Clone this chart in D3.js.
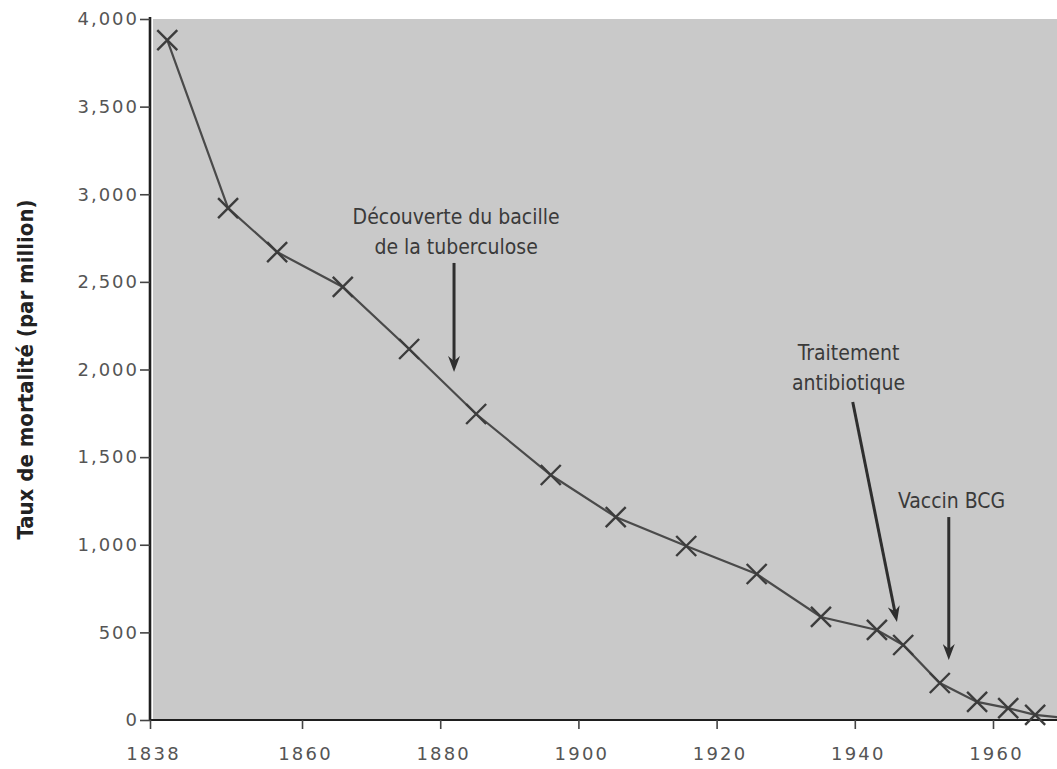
<!DOCTYPE html>
<html>
<head>
<meta charset="utf-8">
<script src="https://cdn.jsdelivr.net/npm/d3@7"></script>
<style>
  body { margin: 0; background: #fff; }
  svg { display: block; }
</style>
</head>
<body>
<div id="vis"></div>
<script>
// marked data points (year, deaths per million)
let years = [1840.5, 1849.3, 1856.4, 1865.9, 1875.5, 1885.2, 1896.0, 1905.4, 1915.6,
             1925.8, 1935.1, 1943.2, 1947.0, 1952.3, 1957.7, 1962.2, 1966.1]
let rates = [3880, 2921, 2670, 2471, 2117, 1746, 1398, 1158, 993,
             833, 588, 514, 428, 211, 103, 68, 29]
// the line runs on past the last cross to the edge of the frame
let tailYear = 1970.5
let tailRate = 12

let xTicks = [1838, 1860, 1880, 1900, 1920, 1940, 1960]
let yTicks = [0, 500, 1000, 1500, 2000, 2500, 3000, 3500, 4000]

// annotations: text lines, where the text sits, where the arrow starts and ends
let noteTexts = [["Découverte du bacille", "de la tuberculose"], ["Traitement", "antibiotique"], ["Vaccin BCG"]]
let noteTextYear = [1882.3, 1939.1, 1954.0]
let noteTextRate = [2830, 2054, 1210]
let noteFrom = [[1882.0, 2608], [1939.7, 1815], [1953.6, 1158]]
let noteTo = [[1882.0, 1986], [1946.1, 559], [1953.6, 342]]

config = {}
config.width = 1057
config.height = 769

let x = d3.scaleLinear().domain([1838, 1960]).range([150, 993])
let y = d3.scaleLinear().domain([0, 4000]).range([720, 19])

let svg = d3.select("#vis")
    .append("svg")
    .attr("width", config.width)
    .attr("height", config.height)

let defs = svg.append("defs")
defs.append("marker")
    .attr("id", "head")
    .attr("viewBox", "0 0 16 12")
    .attr("refX", 5)
    .attr("refY", 6)
    .attr("markerWidth", 16)
    .attr("markerHeight", 12)
    .attr("markerUnits", "userSpaceOnUse")
    .attr("orient", "auto")
    .append("path")
    .attr("d", "M0,0 L5,6 L0,12 L16,6 Z")
    .attr("fill", "#2e2e2e")

// grey plot area
svg.append("rect")
    .attr("x", x(1838) + 3)
    .attr("y", y(4000))
    .attr("width", config.width - x(1838) - 3)
    .attr("height", y(0) - y(4000))
    .attr("fill", "#c9c9c9")

let tickFont = "'DejaVu Sans', sans-serif"

// y axis
let yAxis = svg.append("g")
    .attr("transform", `translate(${x(1838)},0)`)
    .call(d3.axisLeft(y).tickValues(yTicks).tickSize(10).tickSizeOuter(0)
        .tickFormat(d3.format(",")))
yAxis.select(".domain").attr("stroke", "#1e1e1e").attr("stroke-width", 2.6)
    .attr("d", `M0,${y(4000) - 2}V${y(0)}`)
yAxis.selectAll(".tick line").attr("stroke", "#444").attr("stroke-width", 1.6)
yAxis.selectAll(".tick text")
    .attr("x", -11)
    .attr("font-family", tickFont)
    .attr("font-size", 18)
    .attr("letter-spacing", 2)
    .attr("fill", "#555")

// x axis
let xAxis = svg.append("g")
    .attr("transform", `translate(0,${y(0)})`)
    .call(d3.axisBottom(x).tickValues(xTicks).tickSize(9).tickSizeOuter(0)
        .tickFormat(d3.format("d")))
xAxis.select(".domain").attr("stroke", "#1e1e1e").attr("stroke-width", 2.2)
    .attr("d", `M${x(1838)},0H${config.width}`)
xAxis.selectAll(".tick line").attr("stroke", "#444").attr("stroke-width", 1.6)
xAxis.selectAll(".tick text")
    .attr("y", 27)
    .attr("dx", 3)
    .attr("font-family", tickFont)
    .attr("font-size", 18)
    .attr("letter-spacing", 2.2)
    .attr("fill", "#555")

// y axis title
svg.append("text")
    .attr("transform", `translate(33,${(y(0) + y(4000)) / 2}) rotate(-90)`)
    .attr("text-anchor", "middle")
    .attr("font-family", "'Liberation Sans Narrow', 'DejaVu Sans Condensed', sans-serif")
    .attr("font-weight", "bold")
    .attr("font-size", 22)
    .attr("fill", "#222")
    .text("Taux de mortalité (par million)")

// the curve
let pts = years.map((yr, i) => [yr, rates[i]])
let linePts = pts.concat([[tailYear, tailRate]])

svg.append("clipPath").attr("id", "frame")
    .append("rect")
    .attr("x", x(1838)).attr("y", 0)
    .attr("width", config.width - x(1838)).attr("height", y(0))

svg.append("path")
    .attr("clip-path", "url(#frame)")
    .attr("d", d3.line().x(d => x(d[0])).y(d => y(d[1]))(linePts))
    .attr("fill", "none")
    .attr("stroke", "#4a4a4a")
    .attr("stroke-width", 2.2)

let s = 10
svg.append("g")
    .selectAll("path")
    .data(pts)
    .join("path")
    .attr("d", d => {
        let cx = x(d[0]), cy = y(d[1])
        return `M${cx - s},${cy - s}L${cx + s},${cy + s}M${cx + s},${cy - s}L${cx - s},${cy + s}`
    })
    .attr("stroke", "#3c3c3c")
    .attr("stroke-width", 2.4)
    .attr("fill", "none")

// annotations
let notes = svg.append("g")
noteTexts.forEach((lines, i) => {
    let t = notes.append("text")
        .attr("x", x(noteTextYear[i]))
        .attr("y", y(noteTextRate[i]))
        .attr("text-anchor", "middle")
        .attr("font-family", "'Liberation Sans Narrow', 'DejaVu Sans Condensed', sans-serif")
        .attr("font-size", 21)
        .attr("fill", "#3a3a3a")
    lines.forEach((l, j) => {
        t.append("tspan")
            .attr("x", x(noteTextYear[i]))
            .attr("dy", j == 0 ? 0 : 30)
            .text(l)
    })
    // shorten the shaft so the head's tip lands on the target
    let x1 = x(noteFrom[i][0]), y1 = y(noteFrom[i][1])
    let x2 = x(noteTo[i][0]), y2 = y(noteTo[i][1])
    let len = Math.hypot(x2 - x1, y2 - y1)
    let k = (len - 11) / len
    notes.append("line")
        .attr("x1", x1).attr("y1", y1)
        .attr("x2", x1 + (x2 - x1) * k).attr("y2", y1 + (y2 - y1) * k)
        .attr("stroke", "#2e2e2e")
        .attr("stroke-width", 3)
        .attr("marker-end", "url(#head)")
})
</script>
</body>
</html>
